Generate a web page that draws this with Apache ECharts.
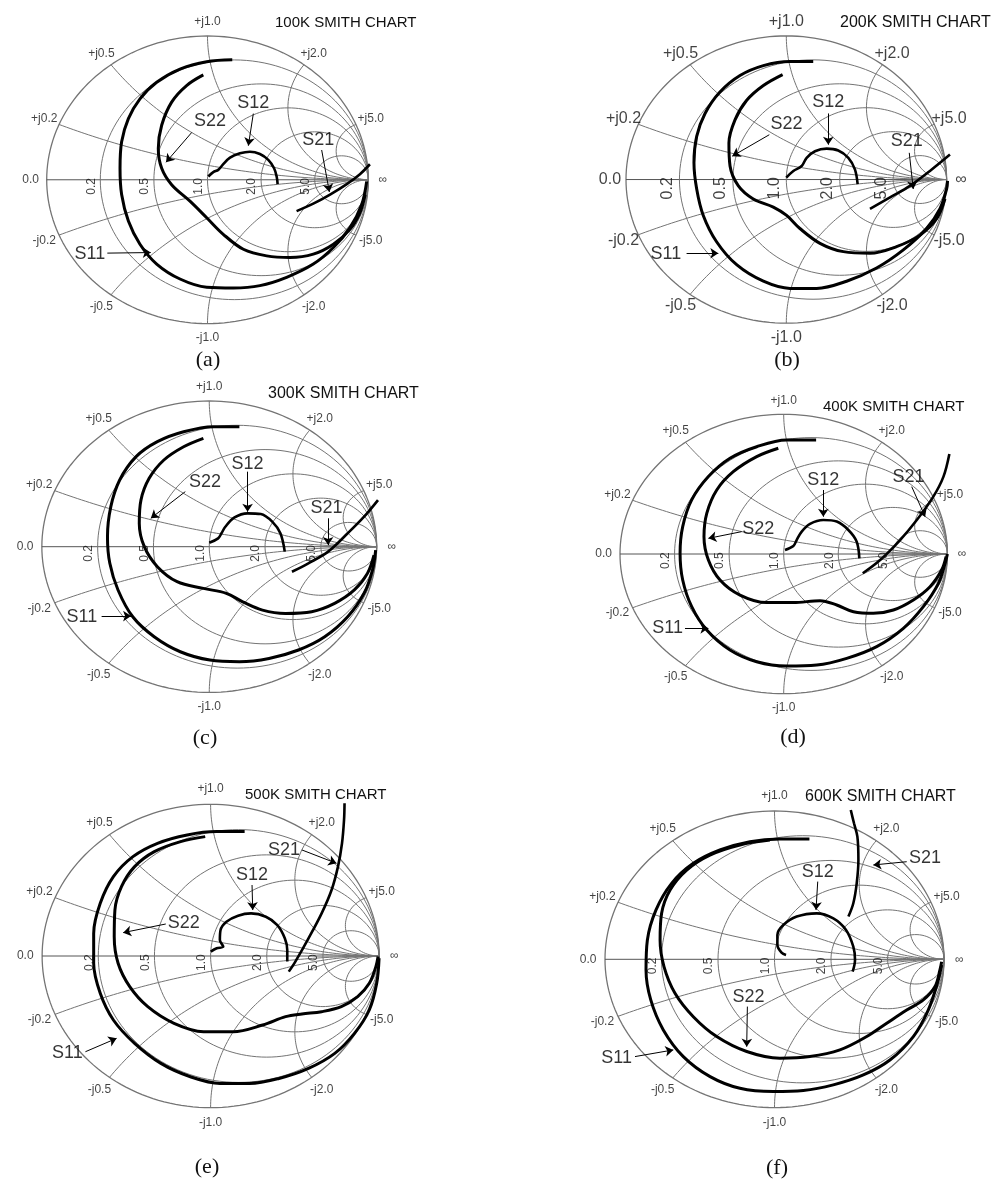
<!DOCTYPE html>
<html><head><meta charset="utf-8">
<script src="https://cdn.jsdelivr.net/npm/echarts@6/dist/echarts.min.js"></script>
<style>html,body{margin:0;padding:0;background:#fff}#c{width:995px;height:1182px}</style>
</head><body><div id="c"></div>
<script>
// ---------------- data (reflection coefficient Γ = [re, im]) ----------------
const panelCaptions = ['(a)', '(b)', '(c)', '(d)', '(e)', '(f)'];
const chartTitles = ['100K SMITH CHART', '200K SMITH CHART', '300K SMITH CHART', '400K SMITH CHART', '500K SMITH CHART', '600K SMITH CHART'];
const resistanceTicks = [0.2, 0.5, 1.0, 2.0, 5.0];
const resistanceLabels = ['0.2', '0.5', '1.0', '2.0', '5.0'];
const reactanceTicks = [0.2, 0.5, 1.0, 2.0, 5.0];
const reactanceLabelsPos = ['+j0.2', '+j0.5', '+j1.0', '+j2.0', '+j5.0'];
const reactanceLabelsNeg = ['-j0.2', '-j0.5', '-j1.0', '-j2.0', '-j5.0'];
const edgeLabels = ['0.0', '\u221e'];

const S11_a = [[0.154,0.834],[-0.005,0.821],[-0.171,0.770],[-0.316,0.678],[-0.420,0.563],[-0.492,0.425],[-0.534,0.264],[-0.544,0.080],[-0.534,-0.103],[-0.492,-0.287],[-0.420,-0.448],[-0.316,-0.586],[-0.171,-0.690],[-0.005,-0.747],[0.161,-0.752],[0.326,-0.736],[0.492,-0.678],[0.658,-0.586],[0.783,-0.471],[0.886,-0.333],[0.959,-0.172],[0.990,-0.011]];
const S22_a = [[-0.026,0.729],[-0.130,0.655],[-0.223,0.540],[-0.285,0.379],[-0.306,0.218],[-0.285,0.080],[-0.223,-0.034],[-0.109,-0.149],[-0.005,-0.264],[0.098,-0.379],[0.223,-0.483],[0.368,-0.529],[0.513,-0.540],[0.658,-0.517],[0.783,-0.448],[0.886,-0.345],[0.948,-0.230],[0.980,-0.103]];
const S12_a = [[0.005,0.023],[0.036,0.053],[0.067,0.069],[0.094,0.103],[0.140,0.154],[0.202,0.184],[0.264,0.195],[0.326,0.179],[0.378,0.138],[0.414,0.080],[0.430,0.023],[0.436,-0.030]];
const S21_a = [[0.554,-0.218],[0.658,-0.166],[0.762,-0.103],[0.866,-0.030],[0.948,0.039],[1.010,0.108]];
const labels_a = [['S12',0.285,0.536],['S22',0.016,0.409],['S21',0.689,0.276],['S11',-0.731,-0.517]];
const arrows_a = [[0.285,0.460,0.254,0.237],[-0.098,0.329,-0.258,0.122],[0.710,0.207,0.758,-0.085],[-0.623,-0.510,-0.353,-0.506]];

const S11_b = [[0.168,0.822],[0.023,0.822],[-0.143,0.793],[-0.289,0.724],[-0.414,0.609],[-0.507,0.460],[-0.559,0.300],[-0.576,0.117],[-0.559,-0.066],[-0.518,-0.250],[-0.435,-0.433],[-0.310,-0.593],[-0.143,-0.708],[0.023,-0.758],[0.189,-0.758],[0.376,-0.708],[0.563,-0.616],[0.730,-0.490],[0.875,-0.341],[0.958,-0.204],[1.0,-0.066],[1.006,-0.009]];
const S22_b = [[-0.023,0.731],[-0.143,0.655],[-0.247,0.552],[-0.320,0.415],[-0.358,0.254],[-0.351,0.094],[-0.299,-0.044],[-0.206,-0.135],[-0.081,-0.192],[0.002,-0.250],[0.085,-0.341],[0.210,-0.444],[0.356,-0.502],[0.522,-0.513],[0.688,-0.467],[0.834,-0.387],[0.938,-0.273],[0.990,-0.135]];
const S12_b = [[0,0.014],[0.044,0.060],[0.096,0.094],[0.127,0.151],[0.179,0.197],[0.252,0.215],[0.324,0.202],[0.387,0.151],[0.428,0.071],[0.445,-0.032]];
const S21_b = [[0.522,-0.204],[0.647,-0.124],[0.771,-0.044],[0.896,0.060],[1.021,0.174]];
const labels_b = [['S12',0.262,0.541],['S22',0.002,0.387],['S21',0.751,0.266],['S11',-0.751,-0.520]];
const arrows_b = [[0.262,0.460,0.262,0.243],[-0.106,0.312,-0.337,0.163],[0.767,0.186,0.792,-0.066],[-0.622,-0.513,-0.424,-0.513]];

const S11_c = [[0.180,0.824],[0.024,0.824],[-0.153,0.789],[-0.310,0.721],[-0.437,0.618],[-0.535,0.458],[-0.588,0.275],[-0.608,0.069],[-0.594,-0.114],[-0.545,-0.297],[-0.457,-0.481],[-0.329,-0.618],[-0.173,-0.721],[0.004,-0.778],[0.180,-0.789],[0.357,-0.767],[0.533,-0.709],[0.690,-0.618],[0.827,-0.481],[0.925,-0.320],[0.975,-0.160],[0.994,-0.023]];
const S22_c = [[-0.035,0.744],[-0.153,0.686],[-0.271,0.595],[-0.359,0.469],[-0.408,0.320],[-0.418,0.160],[-0.388,0],[-0.310,-0.137],[-0.192,-0.240],[-0.035,-0.286],[0.102,-0.320],[0.2,-0.378],[0.318,-0.435],[0.455,-0.458],[0.612,-0.446],[0.749,-0.389],[0.867,-0.297],[0.945,-0.183],[0.984,-0.057]];
const S12_c = [[0,0.027],[0.053,0.057],[0.073,0.092],[0.096,0.137],[0.151,0.201],[0.229,0.229],[0.308,0.224],[0.376,0.172],[0.425,0.092],[0.451,-0.034]];
const S21_c = [[0.494,-0.172],[0.592,-0.114],[0.710,-0.034],[0.827,0.092],[0.925,0.206],[1.008,0.320]];
const labels_c = [['S12',0.229,0.568],['S22',-0.025,0.442],['S21',0.700,0.263],['S11',-0.761,-0.485]];
const arrows_c = [[0.229,0.515,0.229,0.240],[-0.143,0.378,-0.349,0.195],[0.710,0.195,0.710,0.011],[-0.643,-0.476,-0.467,-0.476]];

const S11_d = [[0.198,0.816],[0.018,0.816],[-0.165,0.768],[-0.328,0.685],[-0.460,0.554],[-0.562,0.387],[-0.617,0.196],[-0.633,0.005],[-0.617,-0.186],[-0.562,-0.377],[-0.470,-0.544],[-0.328,-0.687],[-0.165,-0.771],[0.018,-0.802],[0.202,-0.795],[0.385,-0.747],[0.568,-0.663],[0.731,-0.532],[0.853,-0.377],[0.945,-0.210],[0.986,-0.067],[1.0,0]];
const S22_d = [[-0.033,0.757],[-0.165,0.697],[-0.308,0.589],[-0.409,0.458],[-0.470,0.291],[-0.487,0.124],[-0.460,-0.043],[-0.389,-0.186],[-0.267,-0.294],[-0.104,-0.348],[0.059,-0.348],[0.222,-0.334],[0.324,-0.365],[0.426,-0.413],[0.548,-0.425],[0.670,-0.401],[0.792,-0.329],[0.894,-0.234],[0.965,-0.115],[0.992,-0.019]];
const S12_d = [[0.008,0.029],[0.059,0.057],[0.079,0.100],[0.110,0.160],[0.161,0.215],[0.242,0.243],[0.324,0.232],[0.395,0.172],[0.446,0.088],[0.462,-0.031]];
const S21_d = [[0.483,-0.138],[0.589,-0.043],[0.711,0.100],[0.813,0.243],[0.914,0.411],[0.976,0.554],[1.012,0.716]];
const labels_d = [['S12',0.242,0.530],['S22',-0.155,0.179],['S21',0.762,0.554],['S11',-0.709,-0.532]];
const arrows_d = [[0.242,0.458,0.242,0.267],[-0.257,0.160,-0.460,0.112],[0.782,0.482,0.864,0.267],[-0.603,-0.532,-0.460,-0.532]];

const S11_e = [[0.202,0.820],[0.036,0.820],[-0.139,0.798],[-0.315,0.743],[-0.461,0.655],[-0.577,0.523],[-0.655,0.347],[-0.694,0.149],[-0.694,-0.048],[-0.655,-0.246],[-0.577,-0.422],[-0.451,-0.576],[-0.295,-0.708],[-0.120,-0.796],[0.056,-0.840],[0.231,-0.840],[0.406,-0.807],[0.581,-0.741],[0.737,-0.642],[0.854,-0.510],[0.942,-0.356],[0.986,-0.180],[1.0,-0.015]];
const S22_e = [[-0.032,0.787],[-0.178,0.754],[-0.334,0.688],[-0.451,0.589],[-0.529,0.457],[-0.568,0.303],[-0.572,0.127],[-0.549,-0.048],[-0.480,-0.202],[-0.373,-0.334],[-0.217,-0.444],[-0.042,-0.499],[0.133,-0.499],[0.309,-0.455],[0.445,-0.400],[0.542,-0.382],[0.659,-0.367],[0.776,-0.334],[0.873,-0.268],[0.942,-0.180],[0.981,-0.070],[0.994,-0.004]];
const S12_e = [[0.001,0.029],[0.036,0.051],[0.075,0.062],[0.055,0.105],[0.059,0.171],[0.094,0.226],[0.163,0.266],[0.240,0.281],[0.328,0.259],[0.396,0.204],[0.441,0.116],[0.455,0.040],[0.455,-0.037]];
const S21_e = [[0.464,-0.103],[0.503,-0.037],[0.581,0.116],[0.659,0.281],[0.718,0.435],[0.756,0.589],[0.780,0.743],[0.792,0.897],[0.795,1.007]];
const labels_e = [['S12',0.246,0.534],['S22',-0.159,0.215],['S21',0.435,0.699],['S11',-0.850,-0.642]];
const arrows_e = [[0.246,0.468,0.250,0.303],[-0.266,0.211,-0.519,0.154],[0.542,0.699,0.747,0.611],[-0.743,-0.631,-0.558,-0.543]];

const S11_f = [[0.206,0.811],[0.032,0.811],[-0.145,0.793],[-0.322,0.737],[-0.479,0.647],[-0.607,0.512],[-0.699,0.333],[-0.750,0.130],[-0.758,-0.072],[-0.730,-0.274],[-0.656,-0.476],[-0.538,-0.656],[-0.380,-0.791],[-0.204,-0.870],[-0.007,-0.892],[0.170,-0.885],[0.347,-0.847],[0.524,-0.780],[0.681,-0.679],[0.819,-0.521],[0.907,-0.342],[0.961,-0.162],[0.986,-0.038]];
const S22_f = [[-0.027,0.804],[-0.204,0.771],[-0.381,0.703],[-0.518,0.602],[-0.616,0.467],[-0.666,0.310],[-0.675,0.130],[-0.652,-0.049],[-0.587,-0.229],[-0.479,-0.387],[-0.341,-0.521],[-0.164,-0.622],[0.032,-0.667],[0.209,-0.656],[0.386,-0.611],[0.544,-0.521],[0.662,-0.431],[0.780,-0.342],[0.878,-0.274],[0.947,-0.184],[0.976,-0.072],[0.986,-0.016]];
const S12_f = [[0.068,0.029],[0.042,0.045],[0.017,0.097],[0.017,0.164],[0.052,0.231],[0.131,0.288],[0.249,0.310],[0.347,0.276],[0.422,0.198],[0.465,0.085],[0.475,-0.004],[0.461,-0.083]];
const S21_f = [[0.436,0.288],[0.465,0.378],[0.485,0.512],[0.495,0.670],[0.489,0.827],[0.469,0.917],[0.450,1.007]];
const labels_f = [['S12',0.255,0.591],['S22',-0.154,-0.252],['S21',0.888,0.681],['S11',-0.931,-0.667]];
const arrows_f = [[0.255,0.524,0.245,0.333],[-0.160,-0.319,-0.164,-0.589],[0.780,0.658,0.583,0.636],[-0.823,-0.656,-0.597,-0.611]];

const S11 = [S11_a, S11_b, S11_c, S11_d, S11_e, S11_f];
const S22 = [S22_a, S22_b, S22_c, S22_d, S22_e, S22_f];
const S12 = [S12_a, S12_b, S12_c, S12_d, S12_e, S12_f];
const S21 = [S21_a, S21_b, S21_c, S21_d, S21_e, S21_f];
const curveLabels = [labels_a, labels_b, labels_c, labels_d, labels_e, labels_f];
const curveArrows = [arrows_a, arrows_b, arrows_c, arrows_d, arrows_e, arrows_f];

// ---------------- layout (pixels) ----------------
const layout = [
  {cx:207.5, cy:178.3, rx:160.8, ry:145.0, fs:12, tx:275, ty:23,  tfs:15, capx:208, capy:360},
  {cx:786.3, cy:177.2, rx:160.3, ry:145.5, fs:16, tx:840, ty:23,  tfs:16, capx:787, capy:360},
  {cx:206.0, cy:546.7, rx:170.0, ry:145.7, fs:12, tx:268, ty:394, tfs:16, capx:205, capy:738},
  {cx:783.7, cy:554.0, rx:163.7, ry:139.7, fs:12, tx:823, ty:407, tfs:15, capx:793, capy:737},
  {cx:207.2, cy:956.0, rx:171.2, ry:151.7, fs:12, tx:245, ty:795, tfs:15, capx:207, capy:1167},
  {cx:774.5, cy:959.3, rx:169.5, ry:148.3, fs:12, tx:805, ty:797, tfs:16, capx:777, capy:1168}
];
const EXT = 1.25;
const GRID_COLOR = '#747474';
const SANS = 'Arial, "Liberation Sans", sans-serif';

// ---------------- Smith chart grid geometry ----------------
function circlePts(cx, cy, r, n) {
  const p = [];
  for (let k = 0; k <= n; k++) { const a = 2 * Math.PI * k / n; p.push([cx + r * Math.cos(a), cy + r * Math.sin(a)]); }
  return p;
}
function reactancePts(x, n) {
  const sgn = x < 0 ? -1 : 1, ax = Math.abs(x), R = 1 / ax, cyc = 1 / ax;
  const ex = (ax * ax - 1) / (ax * ax + 1), ey = 2 * ax / (ax * ax + 1);
  const a0 = -Math.PI / 2; let a1 = Math.atan2(ey - cyc, ex - 1); if (a1 > a0) a1 -= 2 * Math.PI;
  const p = [];
  for (let k = 0; k <= n; k++) { const a = a0 + (a1 - a0) * k / n; p.push([1 + R * Math.cos(a), sgn * (cyc + R * Math.sin(a))]); }
  return p;
}
function reactanceEnd(x) { return [(x * x - 1) / (x * x + 1), 2 * x / (x * x + 1)]; }

const grids = [], xAxes = [], yAxes = [], series = [], graphics = [];
layout.forEach((L, i) => {
  grids.push({left: L.cx - EXT * L.rx, top: L.cy - EXT * L.ry, width: 2 * EXT * L.rx, height: 2 * EXT * L.ry, containLabel: false});
  xAxes.push({type: 'value', gridIndex: i, min: -EXT, max: EXT, show: false});
  yAxes.push({type: 'value', gridIndex: i, min: -EXT, max: EXT, show: false});
  const gl = [];
  gl.push(circlePts(0, 0, 1, 180));
  gl.push([[-1, 0], [1, 0]]);
  resistanceTicks.forEach(r => gl.push(circlePts(r / (r + 1), 0, 1 / (r + 1), 140)));
  reactanceTicks.forEach(x => { gl.push(reactancePts(x, 80)); gl.push(reactancePts(-x, 80)); });
  gl.forEach((pts, k) => series.push({
    type: 'line', xAxisIndex: i, yAxisIndex: i, data: pts, symbol: 'none', silent: true, clip: false, z: 1,
    lineStyle: {color: k === 1 ? '#555' : GRID_COLOR, width: k === 0 ? 1.3 : 1}
  }));
  // curves
  const curve = (data, w) => ({type: 'line', xAxisIndex: i, yAxisIndex: i, data, symbol: 'none', smooth: 0.35, silent: true, clip: false, z: 5,
    lineStyle: {color: '#000', width: w}});
  series.push(curve(S11[i], 3));
  series.push(curve(S22[i], 3));
  series.push(curve(S12[i], 2.6));
  series.push(curve(S21[i], 2.6));
  // arrows
  series.push({type: 'line', xAxisIndex: i, yAxisIndex: i, data: curveArrows[i].map(a => [a[0], a[1]]), symbol: 'none', silent: true, clip: false,
    lineStyle: {opacity: 0, width: 0}, z: 6,
    markLine: {silent: true, symbol: ['none', 'arrow'], symbolSize: 8, precision: 4, label: {show: false}, emphasis: {disabled: true},
      lineStyle: {color: '#000', width: 1, type: 'solid'},
      data: curveArrows[i].map(a => [{coord: [a[0], a[1]]}, {coord: [a[2], a[3]]}])}
  });
  // curve labels
  series.push({type: 'scatter', xAxisIndex: i, yAxisIndex: i, symbolSize: 0, silent: true, clip: false, z: 7,
    data: curveLabels[i].map(l => ({name: l[0], value: [l[1], l[2]]})),
    label: {show: true, position: 'inside', formatter: '{b}', color: '#000', fontSize: 18, fontFamily: SANS}
  });
  // tick labels around edge
  const tl = [];
  reactanceTicks.forEach((x, k) => {
    const e = reactanceEnd(x);
    tl.push({name: reactanceLabelsPos[k], value: [e[0] * 1.1, e[1] * 1.1]});
    tl.push({name: reactanceLabelsNeg[k], value: [e[0] * 1.1, -e[1] * 1.1]});
  });
  tl.push({name: edgeLabels[0], value: [-1.1, 0]});
  tl.push({name: edgeLabels[1], value: [1.09, 0]});
  series.push({type: 'scatter', xAxisIndex: i, yAxisIndex: i, symbolSize: 0, silent: true, clip: false, z: 7, data: tl,
    label: {show: true, position: 'inside', formatter: '{b}', color: '#111', fontSize: L.fs, fontFamily: SANS}
  });
  // resistance labels (rotated)
  series.push({type: 'scatter', xAxisIndex: i, yAxisIndex: i, symbolSize: 0, silent: true, clip: false, z: 7,
    data: resistanceTicks.map((r, k) => ({name: resistanceLabels[k], value: [(r - 1) / (r + 1), 0]})),
    label: {show: true, position: 'inside', rotate: 90, formatter: '{b}', color: '#111', fontSize: L.fs,
      fontFamily: SANS, offset: [-(L.fs * 0.55), -(L.fs * 0.75)]}
  });
  graphics.push({type: 'text', x: L.tx, y: L.ty, silent: true, style: {text: chartTitles[i], fill: '#111', font: L.tfs + 'px ' + SANS,
    textAlign: 'left', align: 'left', textVerticalAlign: 'middle', verticalAlign: 'middle'}});
  graphics.push({type: 'text', x: L.capx, y: L.capy, silent: true, style: {text: panelCaptions[i], fill: '#111', font: '22px "Liberation Serif", "Times New Roman", serif',
    textAlign: 'center', align: 'center', textVerticalAlign: 'middle', verticalAlign: 'middle'}});
});

const chart = echarts.init(document.getElementById('c'), null, {renderer: 'canvas'});
chart.setOption({
  animation: false,
  backgroundColor: '#fff',
  grid: grids, xAxis: xAxes, yAxis: yAxes, series: series, graphic: graphics
});
</script>
</body></html>
